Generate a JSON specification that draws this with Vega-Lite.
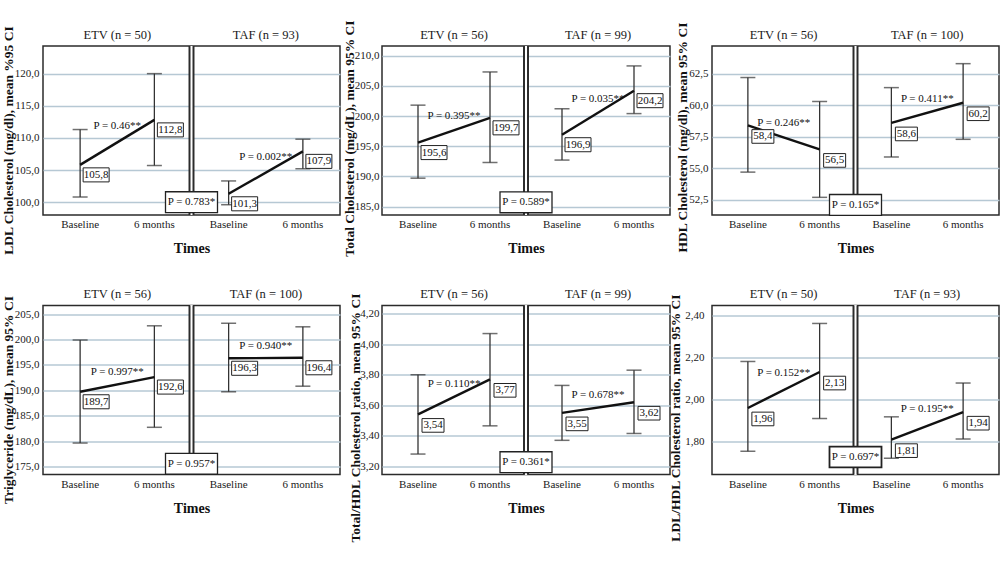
{
  "$schema": "https://vega.github.io/schema/vega-lite/v6.json",
  "background": "white",
  "padding": {"left": 0, "top": 19, "right": 0, "bottom": 0},
  "columns": 3,
  "bounds": "flush",
  "spacing": {"row": 90.5, "column": 42},
  "config": {
    "locale": {"number": {"decimal": ",", "thousands": ".", "grouping": [3], "currency": ["", ""]}},
    "view": {"stroke": "#2b2b2b", "strokeWidth": 1.5},
    "axis": {"labelFont": "Liberation Serif", "titleFont": "Liberation Serif", "labelColor": "#1a1a1a", "titleColor": "#111"},
    "text": {"font": "Liberation Serif", "color": "#111"}
  },
  "concat": [
    {
      "width": 297, "height": 169,
      "data": {"values": [
        {"group": "ETV", "time": "Baseline", "cell": "ETV|Baseline", "mean": 105.8, "lo": 100.8, "hi": 111.3, "p": "P = 0.46**"},
        {"group": "ETV", "time": "6 months", "cell": "ETV|6 months", "mean": 112.8, "lo": 105.7, "hi": 120.0, "p": "P = 0.46**"},
        {"group": "TAF", "time": "Baseline", "cell": "TAF|Baseline", "mean": 101.3, "lo": 99.6, "hi": 103.3, "p": "P = 0.002**", "pb": "P = 0.783*"},
        {"group": "TAF", "time": "6 months", "cell": "TAF|6 months", "mean": 107.9, "lo": 105.2, "hi": 109.8, "p": "P = 0.002**"}
      ]},
      "resolve": {"axis": {"x": "independent"}},
      "layer": [
        {"mark": {"type": "rule", "color": "white", "strokeWidth": 2.8},
         "encoding": {"x": {"datum": "TAF|Baseline", "type": "nominal", "bandPosition": 0, "scale": {"type": "band", "domain": ["ETV|Baseline", "ETV|6 months", "TAF|Baseline", "TAF|6 months"], "paddingInner": 0, "paddingOuter": 0}, "axis": null}}},
        {"mark": {"type": "rule", "color": "#2b2b2b", "strokeWidth": 1.3, "xOffset": -2},
         "encoding": {"x": {"datum": "TAF|Baseline", "type": "nominal", "bandPosition": 0, "axis": null}}},
        {"mark": {"type": "rule", "color": "#2b2b2b", "strokeWidth": 1.3, "xOffset": 2},
         "encoding": {"x": {"datum": "TAF|Baseline", "type": "nominal", "bandPosition": 0, "axis": null}}},
        {"mark": {"type": "rule", "color": "#333", "strokeWidth": 1.3},
         "encoding": {
           "x": {"field": "cell", "type": "nominal", "axis": {"orient": "bottom", "labelExpr": "split(datum.value, '|')[1]", "labelAngle": 0, "labelFontSize": 11, "labelPadding": 3.5, "title": "Times", "titleFontSize": 14, "titleFontWeight": "bold", "titlePadding": 12, "domain": false, "ticks": false, "tickSize": 0, "grid": false}},
           "y": {"field": "lo", "type": "quantitative", "scale": {"domain": [98.0, 124.3], "nice": false, "zero": false}, "axis": {"title": "LDL Cholesterol (mg/dl), mean %95 CI", "values": [100, 105, 110, 115, 120], "tickCount": 20, "format": ".1f", "labelOverlap": false, "grid": true, "gridColor": "#b6c8d4", "gridWidth": 1.3, "domain": false, "ticks": false, "tickSize": 0, "labelPadding": 4, "labelFontSize": 11, "titleFontSize": 13.5, "titleFontWeight": "bold", "titleX": -35, "titleY": 94, "titleBaseline": "middle", "titleAngle": 270}},
           "y2": {"field": "hi"}}},
        {"mark": {"type": "tick", "color": "#333", "thickness": 1.5, "size": 15},
         "encoding": {"x": {"field": "cell", "type": "nominal", "axis": null}, "y": {"field": "lo", "type": "quantitative"}}},
        {"mark": {"type": "tick", "color": "#333", "thickness": 1.5, "size": 15},
         "encoding": {"x": {"field": "cell", "type": "nominal", "axis": null}, "y": {"field": "hi", "type": "quantitative"}}},
        {"mark": {"type": "line", "color": "#111", "strokeWidth": 2.4},
         "encoding": {"x": {"field": "cell", "type": "nominal", "axis": null}, "y": {"field": "mean", "type": "quantitative"}, "detail": {"field": "group"}}},
        {"mark": {"type": "point", "shape": "M-1,-0.54L1,-0.54L1,0.54L-1,0.54Z", "size": 676, "filled": true, "fill": "white", "stroke": "#222", "strokeWidth": 1, "opacity": 1, "xOffset": 16, "yOffset": 10},
         "encoding": {"x": {"field": "cell", "type": "nominal", "axis": null}, "y": {"field": "mean", "type": "quantitative"}}},
        {"mark": {"type": "text", "fontSize": 11, "xOffset": 16, "yOffset": 10},
         "encoding": {"x": {"field": "cell", "type": "nominal", "axis": null}, "y": {"field": "mean", "type": "quantitative"}, "text": {"field": "mean", "type": "quantitative", "format": ".1f"}}},
        {"transform": [{"joinaggregate": [{"op": "mean", "field": "mean", "as": "mid"}], "groupby": ["group"]}, {"filter": "datum.time == '6 months'"}],
         "mark": {"type": "text", "fontSize": 11, "dy": -16},
         "encoding": {"x": {"field": "cell", "type": "nominal", "bandPosition": 0, "axis": {"orient": "top", "values": ["ETV|6 months", "TAF|6 months"], "labelOffset": -37, "labelExpr": "datum.value == 'ETV|6 months' ? 'ETV (n = 50)' : 'TAF (n = 93)'", "labelAngle": 0, "labelFontSize": 12.5, "labelPadding": 5, "title": null, "domain": false, "ticks": false, "tickSize": 0, "grid": false}},
           "y": {"field": "mid", "type": "quantitative"}, "text": {"field": "p"}}},
        {"transform": [{"filter": "isValid(datum.pb)"}],
         "mark": {"type": "point", "shape": "M-1,-0.4L1,-0.4L1,0.4L-1,0.4Z", "size": 2704, "filled": true, "fill": "white", "stroke": "#222", "strokeWidth": 1.3, "opacity": 1},
         "encoding": {"x": {"field": "cell", "type": "nominal", "bandPosition": 0, "axis": null}, "y": {"datum": 100.0, "type": "quantitative"}}},
        {"transform": [{"filter": "isValid(datum.pb)"}],
         "mark": {"type": "text", "fontSize": 11},
         "encoding": {"x": {"field": "cell", "type": "nominal", "bandPosition": 0, "axis": null}, "y": {"datum": 100.0, "type": "quantitative"}, "text": {"field": "pb"}}}
      ]
    },
    {
      "width": 288, "height": 169,
      "data": {"values": [
        {"group": "ETV", "time": "Baseline", "cell": "ETV|Baseline", "mean": 195.6, "lo": 189.7, "hi": 201.8, "p": "P = 0.395**"},
        {"group": "ETV", "time": "6 months", "cell": "ETV|6 months", "mean": 199.7, "lo": 192.3, "hi": 207.3, "p": "P = 0.395**"},
        {"group": "TAF", "time": "Baseline", "cell": "TAF|Baseline", "mean": 196.9, "lo": 192.7, "hi": 201.2, "p": "P = 0.035**", "pb": "P = 0.589*"},
        {"group": "TAF", "time": "6 months", "cell": "TAF|6 months", "mean": 204.2, "lo": 200.4, "hi": 208.3, "p": "P = 0.035**"}
      ]},
      "resolve": {"axis": {"x": "independent"}},
      "layer": [
        {"mark": {"type": "rule", "color": "white", "strokeWidth": 2.8},
         "encoding": {"x": {"datum": "TAF|Baseline", "type": "nominal", "bandPosition": 0, "scale": {"type": "band", "domain": ["ETV|Baseline", "ETV|6 months", "TAF|Baseline", "TAF|6 months"], "paddingInner": 0, "paddingOuter": 0}, "axis": null}}},
        {"mark": {"type": "rule", "color": "#2b2b2b", "strokeWidth": 1.3, "xOffset": -2},
         "encoding": {"x": {"datum": "TAF|Baseline", "type": "nominal", "bandPosition": 0, "axis": null}}},
        {"mark": {"type": "rule", "color": "#2b2b2b", "strokeWidth": 1.3, "xOffset": 2},
         "encoding": {"x": {"datum": "TAF|Baseline", "type": "nominal", "bandPosition": 0, "axis": null}}},
        {"mark": {"type": "rule", "color": "#333", "strokeWidth": 1.3},
         "encoding": {
           "x": {"field": "cell", "type": "nominal", "axis": {"orient": "bottom", "labelExpr": "split(datum.value, '|')[1]", "labelAngle": 0, "labelFontSize": 11, "labelPadding": 3.5, "title": "Times", "titleFontSize": 14, "titleFontWeight": "bold", "titlePadding": 12, "domain": false, "ticks": false, "tickSize": 0, "grid": false}},
           "y": {"field": "lo", "type": "quantitative", "scale": {"domain": [183.6, 211.6], "nice": false, "zero": false}, "axis": {"title": "Total Cholesterol (mg/dL), mean 95% CI", "values": [185, 190, 195, 200, 205, 210], "tickCount": 20, "format": ".1f", "labelOverlap": false, "grid": true, "gridColor": "#b6c8d4", "gridWidth": 1.3, "domain": false, "ticks": false, "tickSize": 0, "labelPadding": 3, "labelFontSize": 11, "titleFontSize": 13.5, "titleFontWeight": "bold", "titleX": -33, "titleY": 92, "titleBaseline": "middle", "titleAngle": 270}},
           "y2": {"field": "hi"}}},
        {"mark": {"type": "tick", "color": "#333", "thickness": 1.5, "size": 15},
         "encoding": {"x": {"field": "cell", "type": "nominal", "axis": null}, "y": {"field": "lo", "type": "quantitative"}}},
        {"mark": {"type": "tick", "color": "#333", "thickness": 1.5, "size": 15},
         "encoding": {"x": {"field": "cell", "type": "nominal", "axis": null}, "y": {"field": "hi", "type": "quantitative"}}},
        {"mark": {"type": "line", "color": "#111", "strokeWidth": 2.4},
         "encoding": {"x": {"field": "cell", "type": "nominal", "axis": null}, "y": {"field": "mean", "type": "quantitative"}, "detail": {"field": "group"}}},
        {"mark": {"type": "point", "shape": "M-1,-0.54L1,-0.54L1,0.54L-1,0.54Z", "size": 676, "filled": true, "fill": "white", "stroke": "#222", "strokeWidth": 1, "opacity": 1, "xOffset": 16, "yOffset": 10},
         "encoding": {"x": {"field": "cell", "type": "nominal", "axis": null}, "y": {"field": "mean", "type": "quantitative"}}},
        {"mark": {"type": "text", "fontSize": 11, "xOffset": 16, "yOffset": 10},
         "encoding": {"x": {"field": "cell", "type": "nominal", "axis": null}, "y": {"field": "mean", "type": "quantitative"}, "text": {"field": "mean", "type": "quantitative", "format": ".1f"}}},
        {"transform": [{"joinaggregate": [{"op": "mean", "field": "mean", "as": "mid"}], "groupby": ["group"]}, {"filter": "datum.time == '6 months'"}],
         "mark": {"type": "text", "fontSize": 11, "dy": -14},
         "encoding": {"x": {"field": "cell", "type": "nominal", "bandPosition": 0, "axis": {"orient": "top", "values": ["ETV|6 months", "TAF|6 months"], "labelOffset": -36, "labelExpr": "datum.value == 'ETV|6 months' ? 'ETV (n = 56)' : 'TAF (n = 99)'", "labelAngle": 0, "labelFontSize": 12.5, "labelPadding": 5, "title": null, "domain": false, "ticks": false, "tickSize": 0, "grid": false}},
           "y": {"field": "mid", "type": "quantitative"}, "text": {"field": "p"}}},
        {"transform": [{"filter": "isValid(datum.pb)"}],
         "mark": {"type": "point", "shape": "M-1,-0.4L1,-0.4L1,0.4L-1,0.4Z", "size": 2704, "filled": true, "fill": "white", "stroke": "#222", "strokeWidth": 1.3, "opacity": 1},
         "encoding": {"x": {"field": "cell", "type": "nominal", "bandPosition": 0, "axis": null}, "y": {"datum": 185.7, "type": "quantitative"}}},
        {"transform": [{"filter": "isValid(datum.pb)"}],
         "mark": {"type": "text", "fontSize": 11},
         "encoding": {"x": {"field": "cell", "type": "nominal", "bandPosition": 0, "axis": null}, "y": {"datum": 185.7, "type": "quantitative"}, "text": {"field": "pb"}}}
      ]
    },
    {
      "width": 287, "height": 169,
      "data": {"values": [
        {"group": "ETV", "time": "Baseline", "cell": "ETV|Baseline", "mean": 58.4, "lo": 54.7, "hi": 62.2, "p": "P = 0.246**"},
        {"group": "ETV", "time": "6 months", "cell": "ETV|6 months", "mean": 56.5, "lo": 52.7, "hi": 60.3, "p": "P = 0.246**"},
        {"group": "TAF", "time": "Baseline", "cell": "TAF|Baseline", "mean": 58.6, "lo": 55.9, "hi": 61.4, "p": "P = 0.411**", "pb": "P = 0.165*"},
        {"group": "TAF", "time": "6 months", "cell": "TAF|6 months", "mean": 60.2, "lo": 57.3, "hi": 63.3, "p": "P = 0.411**"}
      ]},
      "resolve": {"axis": {"x": "independent"}},
      "layer": [
        {"mark": {"type": "rule", "color": "white", "strokeWidth": 2.8},
         "encoding": {"x": {"datum": "TAF|Baseline", "type": "nominal", "bandPosition": 0, "scale": {"type": "band", "domain": ["ETV|Baseline", "ETV|6 months", "TAF|Baseline", "TAF|6 months"], "paddingInner": 0, "paddingOuter": 0}, "axis": null}}},
        {"mark": {"type": "rule", "color": "#2b2b2b", "strokeWidth": 1.3, "xOffset": -2},
         "encoding": {"x": {"datum": "TAF|Baseline", "type": "nominal", "bandPosition": 0, "axis": null}}},
        {"mark": {"type": "rule", "color": "#2b2b2b", "strokeWidth": 1.3, "xOffset": 2},
         "encoding": {"x": {"datum": "TAF|Baseline", "type": "nominal", "bandPosition": 0, "axis": null}}},
        {"mark": {"type": "rule", "color": "#333", "strokeWidth": 1.3},
         "encoding": {
           "x": {"field": "cell", "type": "nominal", "axis": {"orient": "bottom", "labelExpr": "split(datum.value, '|')[1]", "labelAngle": 0, "labelFontSize": 11, "labelPadding": 3.5, "title": "Times", "titleFontSize": 14, "titleFontWeight": "bold", "titlePadding": 12, "domain": false, "ticks": false, "tickSize": 0, "grid": false}},
           "y": {"field": "lo", "type": "quantitative", "scale": {"domain": [51.3, 64.7], "nice": false, "zero": false}, "axis": {"title": "HDL Cholesterol (mg/dl), mean 95% CI", "values": [52.5, 55, 57.5, 60, 62.5], "tickCount": 20, "format": ".1f", "labelOverlap": false, "grid": true, "gridColor": "#b6c8d4", "gridWidth": 1.3, "domain": false, "ticks": false, "tickSize": 0, "labelPadding": 4, "labelFontSize": 11, "titleFontSize": 13.5, "titleFontWeight": "bold", "titleX": -30, "titleY": 91, "titleBaseline": "middle", "titleAngle": 270}},
           "y2": {"field": "hi"}}},
        {"mark": {"type": "tick", "color": "#333", "thickness": 1.5, "size": 15},
         "encoding": {"x": {"field": "cell", "type": "nominal", "axis": null}, "y": {"field": "lo", "type": "quantitative"}}},
        {"mark": {"type": "tick", "color": "#333", "thickness": 1.5, "size": 15},
         "encoding": {"x": {"field": "cell", "type": "nominal", "axis": null}, "y": {"field": "hi", "type": "quantitative"}}},
        {"mark": {"type": "line", "color": "#111", "strokeWidth": 2.4},
         "encoding": {"x": {"field": "cell", "type": "nominal", "axis": null}, "y": {"field": "mean", "type": "quantitative"}, "detail": {"field": "group"}}},
        {"mark": {"type": "point", "shape": "M-1,-0.62L1,-0.62L1,0.62L-1,0.62Z", "size": 484, "filled": true, "fill": "white", "stroke": "#222", "strokeWidth": 1, "opacity": 1, "xOffset": 15, "yOffset": 11},
         "encoding": {"x": {"field": "cell", "type": "nominal", "axis": null}, "y": {"field": "mean", "type": "quantitative"}}},
        {"mark": {"type": "text", "fontSize": 11, "xOffset": 15, "yOffset": 11},
         "encoding": {"x": {"field": "cell", "type": "nominal", "axis": null}, "y": {"field": "mean", "type": "quantitative"}, "text": {"field": "mean", "type": "quantitative", "format": ".1f"}}},
        {"transform": [{"joinaggregate": [{"op": "mean", "field": "mean", "as": "mid"}], "groupby": ["group"]}, {"filter": "datum.time == '6 months'"}],
         "mark": {"type": "text", "fontSize": 11, "dy": -14},
         "encoding": {"x": {"field": "cell", "type": "nominal", "bandPosition": 0, "axis": {"orient": "top", "values": ["ETV|6 months", "TAF|6 months"], "labelOffset": -36, "labelExpr": "datum.value == 'ETV|6 months' ? 'ETV (n = 56)' : 'TAF (n = 100)'", "labelAngle": 0, "labelFontSize": 12.5, "labelPadding": 5, "title": null, "domain": false, "ticks": false, "tickSize": 0, "grid": false}},
           "y": {"field": "mid", "type": "quantitative"}, "text": {"field": "p"}}},
        {"transform": [{"filter": "isValid(datum.pb)"}],
         "mark": {"type": "point", "shape": "M-1,-0.4L1,-0.4L1,0.4L-1,0.4Z", "size": 2704, "filled": true, "fill": "white", "stroke": "#222", "strokeWidth": 1.3, "opacity": 1},
         "encoding": {"x": {"field": "cell", "type": "nominal", "bandPosition": 0, "axis": null}, "y": {"datum": 52.1, "type": "quantitative"}}},
        {"transform": [{"filter": "isValid(datum.pb)"}],
         "mark": {"type": "text", "fontSize": 11},
         "encoding": {"x": {"field": "cell", "type": "nominal", "bandPosition": 0, "axis": null}, "y": {"datum": 52.1, "type": "quantitative"}, "text": {"field": "pb"}}}
      ]
    },
    {
      "width": 297, "height": 169,
      "data": {"values": [
        {"group": "ETV", "time": "Baseline", "cell": "ETV|Baseline", "mean": 189.7, "lo": 179.6, "hi": 199.9, "p": "P = 0.997**"},
        {"group": "ETV", "time": "6 months", "cell": "ETV|6 months", "mean": 192.6, "lo": 182.7, "hi": 202.7, "p": "P = 0.997**"},
        {"group": "TAF", "time": "Baseline", "cell": "TAF|Baseline", "mean": 196.3, "lo": 189.7, "hi": 203.2, "p": "P = 0.940**", "pb": "P = 0.957*"},
        {"group": "TAF", "time": "6 months", "cell": "TAF|6 months", "mean": 196.4, "lo": 190.8, "hi": 202.5, "p": "P = 0.940**"}
      ]},
      "resolve": {"axis": {"x": "independent"}},
      "layer": [
        {"mark": {"type": "rule", "color": "white", "strokeWidth": 2.8},
         "encoding": {"x": {"datum": "TAF|Baseline", "type": "nominal", "bandPosition": 0, "scale": {"type": "band", "domain": ["ETV|Baseline", "ETV|6 months", "TAF|Baseline", "TAF|6 months"], "paddingInner": 0, "paddingOuter": 0}, "axis": null}}},
        {"mark": {"type": "rule", "color": "#2b2b2b", "strokeWidth": 1.3, "xOffset": -2},
         "encoding": {"x": {"datum": "TAF|Baseline", "type": "nominal", "bandPosition": 0, "axis": null}}},
        {"mark": {"type": "rule", "color": "#2b2b2b", "strokeWidth": 1.3, "xOffset": 2},
         "encoding": {"x": {"datum": "TAF|Baseline", "type": "nominal", "bandPosition": 0, "axis": null}}},
        {"mark": {"type": "rule", "color": "#333", "strokeWidth": 1.3},
         "encoding": {
           "x": {"field": "cell", "type": "nominal", "axis": {"orient": "bottom", "labelExpr": "split(datum.value, '|')[1]", "labelAngle": 0, "labelFontSize": 11, "labelPadding": 3.5, "title": "Times", "titleFontSize": 14, "titleFontWeight": "bold", "titlePadding": 12, "domain": false, "ticks": false, "tickSize": 0, "grid": false}},
           "y": {"field": "lo", "type": "quantitative", "scale": {"domain": [173.4, 206.7], "nice": false, "zero": false}, "axis": {"title": "Triglyceride (mg/dL), mean 95% CI", "values": [175, 180, 185, 190, 195, 200, 205], "tickCount": 20, "format": ".1f", "labelOverlap": false, "grid": true, "gridColor": "#b6c8d4", "gridWidth": 1.3, "domain": false, "ticks": false, "tickSize": 0, "labelPadding": 4, "labelFontSize": 11, "titleFontSize": 13.5, "titleFontWeight": "bold", "titleX": -35, "titleY": 94, "titleBaseline": "middle", "titleAngle": 270}},
           "y2": {"field": "hi"}}},
        {"mark": {"type": "tick", "color": "#333", "thickness": 1.5, "size": 15},
         "encoding": {"x": {"field": "cell", "type": "nominal", "axis": null}, "y": {"field": "lo", "type": "quantitative"}}},
        {"mark": {"type": "tick", "color": "#333", "thickness": 1.5, "size": 15},
         "encoding": {"x": {"field": "cell", "type": "nominal", "axis": null}, "y": {"field": "hi", "type": "quantitative"}}},
        {"mark": {"type": "line", "color": "#111", "strokeWidth": 2.4},
         "encoding": {"x": {"field": "cell", "type": "nominal", "axis": null}, "y": {"field": "mean", "type": "quantitative"}, "detail": {"field": "group"}}},
        {"mark": {"type": "point", "shape": "M-1,-0.54L1,-0.54L1,0.54L-1,0.54Z", "size": 676, "filled": true, "fill": "white", "stroke": "#222", "strokeWidth": 1, "opacity": 1, "xOffset": 16, "yOffset": 10},
         "encoding": {"x": {"field": "cell", "type": "nominal", "axis": null}, "y": {"field": "mean", "type": "quantitative"}}},
        {"mark": {"type": "text", "fontSize": 11, "xOffset": 16, "yOffset": 10},
         "encoding": {"x": {"field": "cell", "type": "nominal", "axis": null}, "y": {"field": "mean", "type": "quantitative"}, "text": {"field": "mean", "type": "quantitative", "format": ".1f"}}},
        {"transform": [{"joinaggregate": [{"op": "mean", "field": "mean", "as": "mid"}], "groupby": ["group"]}, {"filter": "datum.time == '6 months'"}],
         "mark": {"type": "text", "fontSize": 11, "dy": -12},
         "encoding": {"x": {"field": "cell", "type": "nominal", "bandPosition": 0, "axis": {"orient": "top", "values": ["ETV|6 months", "TAF|6 months"], "labelOffset": -37, "labelExpr": "datum.value == 'ETV|6 months' ? 'ETV (n = 56)' : 'TAF (n = 100)'", "labelAngle": 0, "labelFontSize": 12.5, "labelPadding": 5, "title": null, "domain": false, "ticks": false, "tickSize": 0, "grid": false}},
           "y": {"field": "mid", "type": "quantitative"}, "text": {"field": "p"}}},
        {"transform": [{"filter": "isValid(datum.pb)"}],
         "mark": {"type": "point", "shape": "M-1,-0.4L1,-0.4L1,0.4L-1,0.4Z", "size": 2704, "filled": true, "fill": "white", "stroke": "#222", "strokeWidth": 1.3, "opacity": 1},
         "encoding": {"x": {"field": "cell", "type": "nominal", "bandPosition": 0, "axis": null}, "y": {"datum": 175.5, "type": "quantitative"}}},
        {"transform": [{"filter": "isValid(datum.pb)"}],
         "mark": {"type": "text", "fontSize": 11},
         "encoding": {"x": {"field": "cell", "type": "nominal", "bandPosition": 0, "axis": null}, "y": {"datum": 175.5, "type": "quantitative"}, "text": {"field": "pb"}}}
      ]
    },
    {
      "width": 288, "height": 169,
      "data": {"values": [
        {"group": "ETV", "time": "Baseline", "cell": "ETV|Baseline", "mean": 3.54, "lo": 3.28, "hi": 3.80, "p": "P = 0.110**"},
        {"group": "ETV", "time": "6 months", "cell": "ETV|6 months", "mean": 3.77, "lo": 3.465, "hi": 4.07, "p": "P = 0.110**"},
        {"group": "TAF", "time": "Baseline", "cell": "TAF|Baseline", "mean": 3.55, "lo": 3.37, "hi": 3.73, "p": "P = 0.678**", "pb": "P = 0.361*"},
        {"group": "TAF", "time": "6 months", "cell": "TAF|6 months", "mean": 3.62, "lo": 3.415, "hi": 3.83, "p": "P = 0.678**"}
      ]},
      "resolve": {"axis": {"x": "independent"}},
      "layer": [
        {"mark": {"type": "rule", "color": "white", "strokeWidth": 2.8},
         "encoding": {"x": {"datum": "TAF|Baseline", "type": "nominal", "bandPosition": 0, "scale": {"type": "band", "domain": ["ETV|Baseline", "ETV|6 months", "TAF|Baseline", "TAF|6 months"], "paddingInner": 0, "paddingOuter": 0}, "axis": null}}},
        {"mark": {"type": "rule", "color": "#2b2b2b", "strokeWidth": 1.3, "xOffset": -2},
         "encoding": {"x": {"datum": "TAF|Baseline", "type": "nominal", "bandPosition": 0, "axis": null}}},
        {"mark": {"type": "rule", "color": "#2b2b2b", "strokeWidth": 1.3, "xOffset": 2},
         "encoding": {"x": {"datum": "TAF|Baseline", "type": "nominal", "bandPosition": 0, "axis": null}}},
        {"mark": {"type": "rule", "color": "#333", "strokeWidth": 1.3},
         "encoding": {
           "x": {"field": "cell", "type": "nominal", "axis": {"orient": "bottom", "labelExpr": "split(datum.value, '|')[1]", "labelAngle": 0, "labelFontSize": 11, "labelPadding": 3.5, "title": "Times", "titleFontSize": 14, "titleFontWeight": "bold", "titlePadding": 12, "domain": false, "ticks": false, "tickSize": 0, "grid": false}},
           "y": {"field": "lo", "type": "quantitative", "scale": {"domain": [3.146, 4.254], "nice": false, "zero": false}, "axis": {"title": "Total/HDL Cholesterol ratio, mean 95% CI", "values": [3.2, 3.4, 3.6, 3.8, 4.0, 4.2], "tickCount": 20, "format": ".2f", "labelOverlap": false, "grid": true, "gridColor": "#b6c8d4", "gridWidth": 1.3, "domain": false, "ticks": false, "tickSize": 0, "labelPadding": 3, "labelFontSize": 11, "titleFontSize": 13.5, "titleFontWeight": "bold", "titleX": -27, "titleY": 112, "titleBaseline": "middle", "titleAngle": 270}},
           "y2": {"field": "hi"}}},
        {"mark": {"type": "tick", "color": "#333", "thickness": 1.5, "size": 15},
         "encoding": {"x": {"field": "cell", "type": "nominal", "axis": null}, "y": {"field": "lo", "type": "quantitative"}}},
        {"mark": {"type": "tick", "color": "#333", "thickness": 1.5, "size": 15},
         "encoding": {"x": {"field": "cell", "type": "nominal", "axis": null}, "y": {"field": "hi", "type": "quantitative"}}},
        {"mark": {"type": "line", "color": "#111", "strokeWidth": 2.4},
         "encoding": {"x": {"field": "cell", "type": "nominal", "axis": null}, "y": {"field": "mean", "type": "quantitative"}, "detail": {"field": "group"}}},
        {"mark": {"type": "point", "shape": "M-1,-0.62L1,-0.62L1,0.62L-1,0.62Z", "size": 484, "filled": true, "fill": "white", "stroke": "#222", "strokeWidth": 1, "opacity": 1, "xOffset": 15, "yOffset": 11},
         "encoding": {"x": {"field": "cell", "type": "nominal", "axis": null}, "y": {"field": "mean", "type": "quantitative"}}},
        {"mark": {"type": "text", "fontSize": 11, "xOffset": 15, "yOffset": 11},
         "encoding": {"x": {"field": "cell", "type": "nominal", "axis": null}, "y": {"field": "mean", "type": "quantitative"}, "text": {"field": "mean", "type": "quantitative", "format": ".2f"}}},
        {"transform": [{"joinaggregate": [{"op": "mean", "field": "mean", "as": "mid"}], "groupby": ["group"]}, {"filter": "datum.time == '6 months'"}],
         "mark": {"type": "text", "fontSize": 11, "dy": -13},
         "encoding": {"x": {"field": "cell", "type": "nominal", "bandPosition": 0, "axis": {"orient": "top", "values": ["ETV|6 months", "TAF|6 months"], "labelOffset": -36, "labelExpr": "datum.value == 'ETV|6 months' ? 'ETV (n = 56)' : 'TAF (n = 99)'", "labelAngle": 0, "labelFontSize": 12.5, "labelPadding": 5, "title": null, "domain": false, "ticks": false, "tickSize": 0, "grid": false}},
           "y": {"field": "mid", "type": "quantitative"}, "text": {"field": "p"}}},
        {"transform": [{"filter": "isValid(datum.pb)"}],
         "mark": {"type": "point", "shape": "M-1,-0.4L1,-0.4L1,0.4L-1,0.4Z", "size": 2704, "filled": true, "fill": "white", "stroke": "#222", "strokeWidth": 1.3, "opacity": 1},
         "encoding": {"x": {"field": "cell", "type": "nominal", "bandPosition": 0, "axis": null}, "y": {"datum": 3.227, "type": "quantitative"}}},
        {"transform": [{"filter": "isValid(datum.pb)"}],
         "mark": {"type": "text", "fontSize": 11},
         "encoding": {"x": {"field": "cell", "type": "nominal", "bandPosition": 0, "axis": null}, "y": {"datum": 3.227, "type": "quantitative"}, "text": {"field": "pb"}}}
      ]
    },
    {
      "width": 287, "height": 169,
      "data": {"values": [
        {"group": "ETV", "time": "Baseline", "cell": "ETV|Baseline", "mean": 1.96, "lo": 1.755, "hi": 2.18, "p": "P = 0.152**"},
        {"group": "ETV", "time": "6 months", "cell": "ETV|6 months", "mean": 2.13, "lo": 1.91, "hi": 2.36, "p": "P = 0.152**"},
        {"group": "TAF", "time": "Baseline", "cell": "TAF|Baseline", "mean": 1.81, "lo": 1.722, "hi": 1.918, "p": "P = 0.195**", "pb": "P = 0.697*"},
        {"group": "TAF", "time": "6 months", "cell": "TAF|6 months", "mean": 1.94, "lo": 1.813, "hi": 2.078, "p": "P = 0.195**"}
      ]},
      "resolve": {"axis": {"x": "independent"}},
      "layer": [
        {"mark": {"type": "rule", "color": "white", "strokeWidth": 2.8},
         "encoding": {"x": {"datum": "TAF|Baseline", "type": "nominal", "bandPosition": 0, "scale": {"type": "band", "domain": ["ETV|Baseline", "ETV|6 months", "TAF|Baseline", "TAF|6 months"], "paddingInner": 0, "paddingOuter": 0}, "axis": null}}},
        {"mark": {"type": "rule", "color": "#2b2b2b", "strokeWidth": 1.3, "xOffset": -2},
         "encoding": {"x": {"datum": "TAF|Baseline", "type": "nominal", "bandPosition": 0, "axis": null}}},
        {"mark": {"type": "rule", "color": "#2b2b2b", "strokeWidth": 1.3, "xOffset": 2},
         "encoding": {"x": {"datum": "TAF|Baseline", "type": "nominal", "bandPosition": 0, "axis": null}}},
        {"mark": {"type": "rule", "color": "#333", "strokeWidth": 1.3},
         "encoding": {
           "x": {"field": "cell", "type": "nominal", "axis": {"orient": "bottom", "labelExpr": "split(datum.value, '|')[1]", "labelAngle": 0, "labelFontSize": 11, "labelPadding": 3.5, "title": "Times", "titleFontSize": 14, "titleFontWeight": "bold", "titlePadding": 12, "domain": false, "ticks": false, "tickSize": 0, "grid": false}},
           "y": {"field": "lo", "type": "quantitative", "scale": {"domain": [1.645, 2.445], "nice": false, "zero": false}, "axis": {"title": "LDL/HDL Cholesterol ratio, mean 95% CI", "values": [1.8, 2.0, 2.2, 2.4], "tickCount": 20, "format": ".2f", "labelOverlap": false, "grid": true, "gridColor": "#b6c8d4", "gridWidth": 1.3, "domain": false, "ticks": false, "tickSize": 0, "labelPadding": 8, "labelFontSize": 11, "titleFontSize": 13.5, "titleFontWeight": "bold", "titleX": -37, "titleY": 112, "titleBaseline": "middle", "titleAngle": 270}},
           "y2": {"field": "hi"}}},
        {"mark": {"type": "tick", "color": "#333", "thickness": 1.5, "size": 15},
         "encoding": {"x": {"field": "cell", "type": "nominal", "axis": null}, "y": {"field": "lo", "type": "quantitative"}}},
        {"mark": {"type": "tick", "color": "#333", "thickness": 1.5, "size": 15},
         "encoding": {"x": {"field": "cell", "type": "nominal", "axis": null}, "y": {"field": "hi", "type": "quantitative"}}},
        {"mark": {"type": "line", "color": "#111", "strokeWidth": 2.4},
         "encoding": {"x": {"field": "cell", "type": "nominal", "axis": null}, "y": {"field": "mean", "type": "quantitative"}, "detail": {"field": "group"}}},
        {"mark": {"type": "point", "shape": "M-1,-0.62L1,-0.62L1,0.62L-1,0.62Z", "size": 484, "filled": true, "fill": "white", "stroke": "#222", "strokeWidth": 1, "opacity": 1, "xOffset": 15, "yOffset": 11},
         "encoding": {"x": {"field": "cell", "type": "nominal", "axis": null}, "y": {"field": "mean", "type": "quantitative"}}},
        {"mark": {"type": "text", "fontSize": 11, "xOffset": 15, "yOffset": 11},
         "encoding": {"x": {"field": "cell", "type": "nominal", "axis": null}, "y": {"field": "mean", "type": "quantitative"}, "text": {"field": "mean", "type": "quantitative", "format": ".2f"}}},
        {"transform": [{"joinaggregate": [{"op": "mean", "field": "mean", "as": "mid"}], "groupby": ["group"]}, {"filter": "datum.time == '6 months'"}],
         "mark": {"type": "text", "fontSize": 11, "dy": -17},
         "encoding": {"x": {"field": "cell", "type": "nominal", "bandPosition": 0, "axis": {"orient": "top", "values": ["ETV|6 months", "TAF|6 months"], "labelOffset": -36, "labelExpr": "datum.value == 'ETV|6 months' ? 'ETV (n = 50)' : 'TAF (n = 93)'", "labelAngle": 0, "labelFontSize": 12.5, "labelPadding": 5, "title": null, "domain": false, "ticks": false, "tickSize": 0, "grid": false}},
           "y": {"field": "mid", "type": "quantitative"}, "text": {"field": "p"}}},
        {"transform": [{"filter": "isValid(datum.pb)"}],
         "mark": {"type": "point", "shape": "M-1,-0.4L1,-0.4L1,0.4L-1,0.4Z", "size": 2704, "filled": true, "fill": "white", "stroke": "#222", "strokeWidth": 1.8, "opacity": 1},
         "encoding": {"x": {"field": "cell", "type": "nominal", "bandPosition": 0, "axis": null}, "y": {"datum": 1.728, "type": "quantitative"}}},
        {"transform": [{"filter": "isValid(datum.pb)"}],
         "mark": {"type": "text", "fontSize": 11},
         "encoding": {"x": {"field": "cell", "type": "nominal", "bandPosition": 0, "axis": null}, "y": {"datum": 1.728, "type": "quantitative"}, "text": {"field": "pb"}}}
      ]
    }
  ]
}
